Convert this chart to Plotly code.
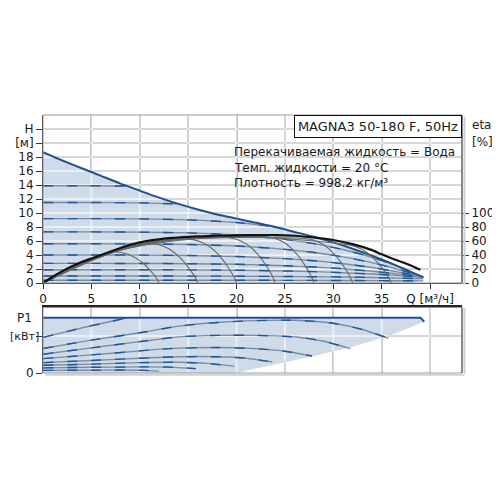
import plotly.graph_objects as go

FONT = "DejaVu Sans, Verdana, Arial, sans-serif"
TXT = "#1a1a1a"
BLUE = "#1f5696"
BLUE_BASE = "#7a8da5"
MAXBLUE = "#21508e"
FILL = "#cfdbe8"
ARC = "#666666"

# ---------------- axes / ticks ----------------
q_ticks = [0, 5, 10, 15, 20, 25, 30, 35, 40]
q_labels = ["0", "5", "10", "15", "20", "25", "30", "35", "Q [м³/ч]"]
h_ticks = [0, 2, 4, 6, 8, 10, 12, 14, 16, 18, 20, 22]
h_labels = ["0", "2", "4", "6", "8", "10", "12", "14", "16", "18", "[м]", "H"]
eta_ticks = [0, 20, 40, 60, 80, 100]
p_ticks = [0, 1]
p_labels = ["0", ""]
p_unit = "[кВт]"

# ---------------- H(Q) max curve ----------------
q_max = [0, 2, 4, 6, 8, 10, 12, 14, 16, 18, 20, 22, 24, 26, 28, 30, 32, 34, 36, 38, 39.3]
h_max = [18.7, 17.5, 16.4, 15.3, 14.2, 13.2, 12.2, 11.3, 10.5, 9.8, 9.2, 8.6, 8.0, 7.3, 6.6, 5.8, 4.9, 3.9, 2.8, 1.6, 0.85]
q_fill_end = [38.4, 0]
h_fill_end = [0, 0]

# ---------------- constant curves (H) ----------------
cc_q_a = [0, 4, 8.5]
cc_h_a = [13.9, 13.9, 13.85]
cc_q_b = [0, 5, 10, 13.8]
cc_h_b = [11.5, 11.5, 11.45, 11.3]
cc_q_c = [0, 5, 10, 15, 20, 24]
cc_h_c = [9.2, 9.2, 9.16, 9.02, 8.64, 8.03]
cc_q = [0, 5, 10, 15, 20, 25, 28, 31, 34, 36, 37.5, 39.3]
cc_h_d = [7.3, 7.3, 7.27, 7.16, 6.86, 6.24, 5.62, 4.78, 3.66, 2.72, 1.91, 0.8]
cc_h_e = [5.6, 5.6, 5.58, 5.5, 5.28, 4.81, 4.36, 3.74, 2.91, 2.22, 1.62, 0.8]
cc_h_f = [4.0, 4.0, 3.99, 3.93, 3.79, 3.48, 3.18, 2.76, 2.21, 1.75, 1.35, 0.8]
cc_h_g = [2.8, 2.8, 2.79, 2.76, 2.67, 2.47, 2.28, 2.03, 1.68, 1.39, 1.14, 0.8]
cc_h_h = [1.9, 1.9, 1.9, 1.88, 1.83, 1.72, 1.62, 1.47, 1.28, 1.13, 0.99, 0.8]
cc_h_i = [1.0, 1.0, 1.0, 0.99, 0.97, 0.93, 0.90, 0.85, 0.78, 0.72, 0.67, 0.6]
cc_h_j = [0.4, 0.4, 0.4, 0.4, 0.39, 0.38, 0.37, 0.36, 0.34, 0.33, 0.32, 0.3]

# ---------------- efficiency (eta, %) ----------------
q_eta_max = [0, 1, 2, 3, 4, 5, 6, 7, 8, 9, 10, 11, 12, 13, 14, 15, 16, 17, 18, 20, 22, 24, 26, 28, 30, 32, 34, 35, 36, 37, 38, 39]
eta_max = [0, 9, 17, 24, 30, 35, 40, 45, 50, 54.5, 58, 60.5, 62.5, 64, 65, 66, 66.5, 67, 67.5, 68, 68.5, 68.5, 67.5, 65, 61.5, 55.5, 47, 41, 35.5, 30.5, 25, 19]

arc12_q = [0, 1.9, 3.75, 5.6, 7.5, 8.4, 9.3, 9.98, 10.65, 11.1, 11.55, 11.78, 12]
arc12_e = [0, 15.1, 26.5, 35.3, 44.2, 42.4, 38.0, 32.3, 24.3, 17.7, 10.2, 5.7, 0]
arc16_q = [0, 2.75, 5.5, 8.25, 11, 12, 13, 13.75, 14.5, 15, 15.5, 15.75, 16]
arc16_e = [0, 20.9, 35.3, 48.0, 56.9, 54.6, 48.9, 41.5, 31.3, 22.8, 13.1, 7.4, 0]
arc20_q = [0, 3.75, 7.5, 11.25, 15, 16, 17, 17.75, 18.5, 19, 19.5, 19.75, 20]
arc20_e = [0, 27.1, 45.1, 58.0, 62.7, 60.2, 53.9, 45.8, 34.5, 25.1, 14.4, 8.2, 0]
arc24_q = [0, 4.75, 9.5, 14.25, 19, 20, 21, 21.75, 22.5, 23, 23.5, 23.75, 24]
arc24_e = [0, 32.4, 54.0, 62.6, 65.0, 62.4, 55.9, 47.5, 35.8, 26.0, 15.0, 8.5, 0]
arc28_q = [0, 5.75, 11.5, 17.25, 23, 24, 25, 25.75, 26.5, 27, 27.5, 27.75, 28]
arc28_e = [0, 37.6, 59.7, 65.1, 66.4, 63.7, 57.1, 48.5, 36.5, 26.6, 15.3, 8.6, 0]
arc32_q = [0, 6.75, 13.5, 20.25, 27, 28, 29, 29.75, 30.5, 31, 31.5, 31.75, 32]
arc32_e = [0, 42.0, 61.9, 65.4, 63.6, 61.1, 54.7, 46.4, 35.0, 25.4, 14.6, 8.3, 0]
arc36_q = [0, 7.75, 15.5, 23.25, 31, 32, 33, 33.75, 34.5, 35, 35.5, 35.75, 36]
arc36_e = [0, 46.3, 62.9, 65.1, 55.6, 53.4, 47.8, 40.6, 30.6, 22.2, 12.8, 7.2, 0]

# ---------------- power P1 ----------------
q_pmax = [0, 39.0, 39.4]
p_max = [1.5, 1.5, 1.39]
q_pfill = [0, 39.0, 39.4, 35.7, 31.8, 27.8, 23.7, 20.0, 0]
p_pfill = [1.5, 1.5, 1.39, 1.0, 0.7, 0.45, 0.22, 0, 0]

pa_q = [0, 4.3, 8.6]
pa_p = [0.965, 1.24, 1.49]
pb_q = [0, 5, 10, 14, 18, 22, 26, 30, 33, 35.7]
pb_p = [0.665, 0.89, 1.09, 1.27, 1.37, 1.42, 1.43, 1.35, 1.18, 0.94]
pc_q = [0, 5, 10, 14, 18, 22, 26.4, 29, 31.8]
pc_p = [0.51, 0.68, 0.85, 0.98, 1.02, 1.02, 0.97, 0.86, 0.66]
pd_q = [0, 5, 10, 13, 18, 22, 25, 27.8]
pd_p = [0.39, 0.49, 0.6, 0.66, 0.69, 0.66, 0.59, 0.46]
pe_q = [0, 5, 10, 14, 18, 21, 23.7]
pe_p = [0.28, 0.34, 0.40, 0.44, 0.44, 0.40, 0.30]
pf_q = [0, 5, 10, 14, 17, 19.8]
pf_p = [0.21, 0.24, 0.28, 0.29, 0.26, 0.18]
pg_q = [0, 5, 10, 13, 15.8]
pg_p = [0.14, 0.155, 0.165, 0.16, 0.12]
ph_q = [0, 4, 8, 10.5, 12]
ph_p = [0.07, 0.075, 0.08, 0.07, 0.05]

Q_RANGE = [0, 43.3]
H_RANGE = [0, 24]
ETA_RANGE = [0, 240]
P_RANGE = [0, 1.776]

fig = go.Figure()


def add(x, y, xa="x", ya="y", **kw):
    fig.add_trace(go.Scatter(x=x, y=y, xaxis=xa, yaxis=ya, mode="lines",
                             hoverinfo="skip", showlegend=False, **kw))


def styled_line(x, y, xa="x", ya="y"):
    add(x, y, xa, ya, line=dict(color=BLUE_BASE, width=1.4, shape="spline", smoothing=0.6))
    add(x, y, xa, ya, line=dict(color=BLUE, width=1.4, dash="10px,14px", shape="spline", smoothing=0.6))


def grid_overlay(xa, ya, xs, ys, xr, yr):
    gx, gy = [], []
    for v in xs:
        gx += [v, v, None]
        gy += [yr[0], yr[1], None]
    for v in ys:
        gx += [xr[0], xr[1], None]
        gy += [v, v, None]
    add(gx, gy, xa, ya, line=dict(color="rgba(255,255,255,0.55)", width=2))


# ---- top plot ----
add(q_max + q_fill_end, h_max + h_fill_end, fill="toself", fillcolor=FILL,
    line=dict(width=0, color=FILL))
grid_overlay("x", "y", q_ticks[1:], h_ticks[1:], Q_RANGE, H_RANGE)

for qq, hh in [(cc_q_a, cc_h_a), (cc_q_b, cc_h_b), (cc_q_c, cc_h_c),
               (cc_q, cc_h_d), (cc_q, cc_h_e), (cc_q, cc_h_f), (cc_q, cc_h_g),
               (cc_q, cc_h_h), (cc_q, cc_h_i), (cc_q, cc_h_j)]:
    styled_line(qq, hh)

for qq, ee in [(arc12_q, arc12_e), (arc16_q, arc16_e), (arc20_q, arc20_e), (arc24_q, arc24_e),
               (arc28_q, arc28_e), (arc32_q, arc32_e), (arc36_q, arc36_e)]:
    add(qq, ee, "x", "y3", line=dict(color=ARC, width=1.1, shape="spline", smoothing=0.7))

add(q_max, h_max, line=dict(color=MAXBLUE, width=2, shape="spline", smoothing=0.6))
add(q_eta_max, eta_max, "x", "y3", line=dict(color="#111111", width=2.2, shape="spline", smoothing=0.6))

# ---- bottom plot ----
add(q_pfill, p_pfill, "x2", "y2", fill="toself", fillcolor=FILL, line=dict(width=0, color=FILL))
grid_overlay("x2", "y2", q_ticks[1:], p_ticks[1:], Q_RANGE, P_RANGE)
for qq, pp in [(pb_q, pb_p), (pc_q, pc_p), (pd_q, pd_p), (pe_q, pe_p),
               (pf_q, pf_p), (pg_q, pg_p), (ph_q, ph_p), (pa_q, pa_p)]:
    styled_line(qq, pp, "x2", "y2")
add(q_pmax, p_max, "x2", "y2", line=dict(color=MAXBLUE, width=2))

tickfont = dict(family=FONT, size=12, color=TXT)
GRID = "#a6a6a6"

# page body has an 8px margin, so offsets are compensated here
fig.update_layout(
    width=500, height=500,
    margin=dict(l=35, r=46, t=107, b=135, autoexpand=False),
    paper_bgcolor="white", plot_bgcolor="white",
    font=dict(family=FONT, size=12, color=TXT),
    showlegend=False,
    xaxis=dict(domain=[0, 1], range=Q_RANGE, anchor="y", tickvals=q_ticks, ticktext=q_labels,
               ticks="outside", ticklen=5, tickcolor="#333", showline=True, linecolor="#222",
               linewidth=1, showgrid=True, gridcolor=GRID, gridwidth=2, zeroline=False,
               tickfont=tickfont, automargin=False),
    yaxis=dict(domain=[0.3488, 1], range=H_RANGE, anchor="x", tickvals=h_ticks, ticktext=h_labels,
               ticks="outside", ticklen=6, tickcolor="#333", showline=True, linecolor="#222",
               linewidth=1, showgrid=True, gridcolor=GRID, gridwidth=2, zeroline=False,
               tickfont=tickfont, automargin=False),
    yaxis3=dict(overlaying="y", side="right", range=ETA_RANGE, anchor="x", tickvals=eta_ticks,
                ticks="outside", ticklen=6, tickcolor="#333", showline=False, showgrid=False,
                zeroline=False, tickfont=tickfont, automargin=False),
    xaxis2=dict(domain=[0, 1], range=Q_RANGE, anchor="y2", side="top", tickvals=q_ticks,
                showticklabels=False, ticks="", showline=True, linecolor="#222", linewidth=1.5,
                showgrid=True, gridcolor=GRID, gridwidth=2, zeroline=False, automargin=False),
    yaxis2=dict(domain=[0, 0.2539], range=P_RANGE, anchor="x2", tickvals=p_ticks, ticktext=p_labels,
                ticks="outside", ticklen=6, tickcolor="#333", showline=True, linecolor="#222",
                linewidth=1, showgrid=True, gridcolor=GRID, gridwidth=2, zeroline=False,
                tickfont=tickfont, automargin=False),
)

shapes = []
for xr, yr in [("x domain", "y domain"), ("x2 domain", "y2 domain")]:
    shapes.append(dict(type="rect", xref=xr, yref=yr, x0=0, x1=1, y0=0, y1=1,
                       line=dict(color="#9a9a9a", width=1), layer="above"))
    shapes.append(dict(type="line", xref=xr, yref=yr, x0=1.006, x1=1.006, y0=-0.01, y1=0.99,
                       line=dict(color="#d0d0d0", width=2), layer="above"))
    shapes.append(dict(type="line", xref=xr, yref=yr, x0=1, x1=1, y0=0, y1=1,
                       line=dict(color="#707070", width=1.5), layer="above"))
shapes.append(dict(type="line", xref="x2 domain", yref="y2 domain", x0=0.005, x1=1.006, y0=-0.025, y1=-0.025,
                   line=dict(color="#d0d0d0", width=2), layer="above"))
fig.update_layout(shapes=shapes)

ann = [
    dict(text="MAGNA3 50-180 F, 50Hz", xref="x domain", yref="y domain", x=1, y=1,
         xanchor="right", yanchor="top", showarrow=False, bgcolor="white",
         bordercolor="#111", borderwidth=1, borderpad=2, width=162, height=17,
         font=dict(family=FONT, size=13, color=TXT)),
    dict(text="Перекачиваемая жидкость = Вода", xref="x", yref="y", x=19.5, y=18.76,
         xanchor="left", yanchor="middle", showarrow=False, font=dict(family=FONT, size=12, color=TXT)),
    dict(text="Темп. жидкости = 20 °C", xref="x", yref="y", x=19.5, y=16.39,
         xanchor="left", yanchor="middle", showarrow=False, font=dict(family=FONT, size=12, color=TXT)),
    dict(text="Плотность = 998.2 кг/м³", xref="x", yref="y", x=19.5, y=14.24,
         xanchor="left", yanchor="middle", showarrow=False, font=dict(family=FONT, size=12, color=TXT)),
    dict(text="eta", xref="x domain", yref="y", x=1.019, y=22.6, xanchor="left", yanchor="middle",
         showarrow=False, font=dict(family=FONT, size=12, color=TXT)),
    dict(text="[%]", xref="x domain", yref="y", x=1.019, y=20.2, xanchor="left", yanchor="middle",
         showarrow=False, font=dict(family=FONT, size=12, color=TXT)),
    dict(text="P1", xref="paper", yref="y2", x=-0.022, y=1.5, xanchor="right", yanchor="middle",
         showarrow=False, font=dict(family=FONT, size=12, color=TXT)),
    dict(text=p_unit, xref="paper", yref="y2", x=-0.0825, y=1.0, xanchor="left", yanchor="middle",
         showarrow=False, font=dict(family=FONT, size=11, color=TXT)),
]
fig.update_layout(annotations=ann)

fig.write_html("out.html")
